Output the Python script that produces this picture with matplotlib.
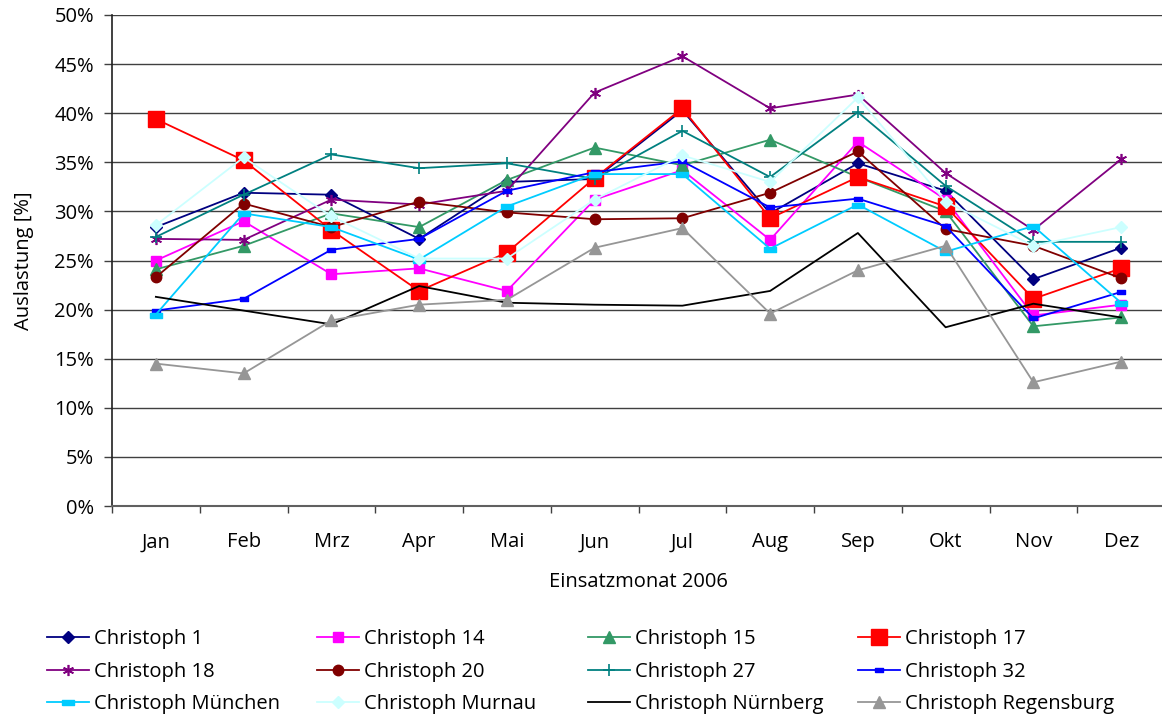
import numpy as np
import matplotlib
matplotlib.use("Agg")
import matplotlib.pyplot as plt
from matplotlib.ticker import FixedLocator, PercentFormatter

# =========================
# DATEN (Auslastung in %)
# =========================
monate = ["Jan", "Feb", "Mrz", "Apr", "Mai", "Jun",
          "Jul", "Aug", "Sep", "Okt", "Nov", "Dez"]

c1 = [28.4, 31.9, 31.7, 27.2, 33.0, 33.3, 40.3, 29.8, 34.9, 32.1, 23.1, 26.3]
c14 = [25.0, 29.0, 23.6, 24.2, 21.9, 31.2, 34.2, 27.1, 37.1, 31.2, 19.4, 20.5]
c15 = [24.1, 26.5, 29.8, 28.4, 33.2, 36.5, 34.7, 37.3, 33.5, 30.0, 18.3, 19.2]
c17 = [39.4, 35.2, 28.1, 21.9, 25.8, 33.4, 40.5, 29.3, 33.5, 30.5, 21.1, 24.2]
c18 = [27.2, 27.1, 31.2, 30.7, 32.1, 42.1, 45.8, 40.5, 41.9, 33.9, 28.1, 35.3]
c20 = [23.3, 30.8, 28.4, 31.0, 29.9, 29.2, 29.3, 31.9, 36.1, 28.2, 26.5, 23.2]
c27 = [27.4, 31.7, 35.8, 34.4, 34.9, 33.3, 38.2, 33.5, 40.1, 32.6, 26.9, 26.9]
c32 = [19.9, 21.1, 26.1, 27.2, 32.1, 34.0, 35.1, 30.4, 31.3, 28.5, 19.1, 21.8]
muenchen = [19.5, 29.8, 28.4, 25.1, 30.5, 33.8, 33.8, 26.2, 30.7, 25.9, 28.5, 20.7]
murnau = [28.6, 35.5, 29.5, 25.2, 25.2, 31.2, 35.7, 33.0, 41.6, 31.0, 26.5, 28.4]
nuernberg = [21.3, 19.9, 18.5, 22.4, 20.7, 20.5, 20.4, 21.9, 27.8, 18.2, 20.6, 19.2]
regensburg = [14.5, 13.5, 18.9, 20.5, 21.0, 26.3, 28.3, 19.6, 24.0, 26.5, 12.6, 14.7]

# =========================
# SCHRIFT
# =========================
plt.rcParams["font.family"] = ["Open Sans", "DejaVu Sans"]
plt.rcParams["font.size"] = 14.5

# Marker: flaches Rechteck (wie Excel "Strich")
rechteck = [(-1, -0.45), (1, -0.45), (1, 0.45), (-1, 0.45), (-1, -0.45)]

serien = [
    ("Christoph 1", c1, "#000080", dict(marker="D", ms=6.5)),
    ("Christoph 14", c14, "#FF00FF", dict(marker="s", ms=7.5)),
    ("Christoph 15", c15, "#339966", dict(marker="^", ms=8)),
    ("Christoph 17", c17, "#FF0000", dict(marker="s", ms=11.5)),
    ("Christoph 18", c18, "#800080", dict(marker=(6, 2, 0), ms=8, mew=1.2)),
    ("Christoph 20", c20, "#800000", dict(marker="o", ms=7.5)),
    ("Christoph 27", c27, "#008080", dict(marker="+", ms=9, mew=1.2)),
    ("Christoph 32", c32, "#0000FF", dict(marker=rechteck, ms=5.5)),
    ("Christoph München", muenchen, "#00CCFF", dict(marker=rechteck, ms=8)),
    ("Christoph Murnau", murnau, "#CCFFFF", dict(marker="D", ms=6.5)),
    ("Christoph Nürnberg", nuernberg, "#000000", dict(marker="None")),
    ("Christoph Regensburg", regensburg, "#969696", dict(marker="^", ms=8)),
]

# =========================
# FIGUR
# =========================
fig = plt.figure(figsize=(11.62, 7.16), dpi=100)
ax = fig.add_axes([112 / 1162, 210 / 716, 1053 / 1162, 491 / 716])

x = np.arange(len(monate))
linien = []
for name, werte, farbe, stil in serien:
    (l,) = ax.plot(x, werte, color=farbe, lw=1.3, label=name,
                   markeredgecolor=farbe, markerfacecolor=farbe,
                   clip_on=False, **stil)
    linien.append(l)

# ACHSEN
ax.set_xlim(-0.5, len(monate) - 0.5)
ax.set_ylim(0, 50)
ax.yaxis.set_major_locator(FixedLocator(np.arange(0, 51, 5)))
ax.yaxis.set_major_formatter(PercentFormatter(decimals=0))
ax.set_xticks(x)
ax.set_xticklabels(monate)
ax.xaxis.set_minor_locator(FixedLocator(np.arange(-0.5, len(monate), 1)))
ax.tick_params(axis="x", which="major", length=0, pad=19)
ax.tick_params(axis="x", which="minor", length=5, width=1, color="#404040")
ax.tick_params(axis="y", length=6, width=1, color="#404040", pad=7)

ax.grid(axis="y", color="#404040", lw=1)
ax.set_axisbelow(True)
for s in ["top", "right"]:
    ax.spines[s].set_visible(False)
ax.spines["left"].set_color("#202020")
ax.spines["bottom"].set_color("#606060")
ax.spines["left"].set_linewidth(1.2)
ax.spines["bottom"].set_linewidth(1.5)

ax.set_ylabel("Auslastung [%]")
ax.yaxis.set_label_coords(-(112 - 34) / 1053, 0.5)
ax.set_xlabel("Einsatzmonat 2006")
ax.xaxis.set_label_coords((638 - 112) / 1053, -(572 - 506) / 491)

# LEGENDE (4 Spalten wie im Original)
spalten_x = [47, 317, 588, 858]
for i, sx in enumerate(spalten_x):
    handles = [linien[i], linien[i + 4], linien[i + 8]]
    fig.legend(handles=handles, loc="upper left",
               bbox_to_anchor=(sx / 1162, 1 - 629 / 716),
               frameon=False, handlelength=2.1, handletextpad=0.25,
               labelspacing=0.63, borderaxespad=0, borderpad=0)

fig.savefig("out.png", dpi=100)
